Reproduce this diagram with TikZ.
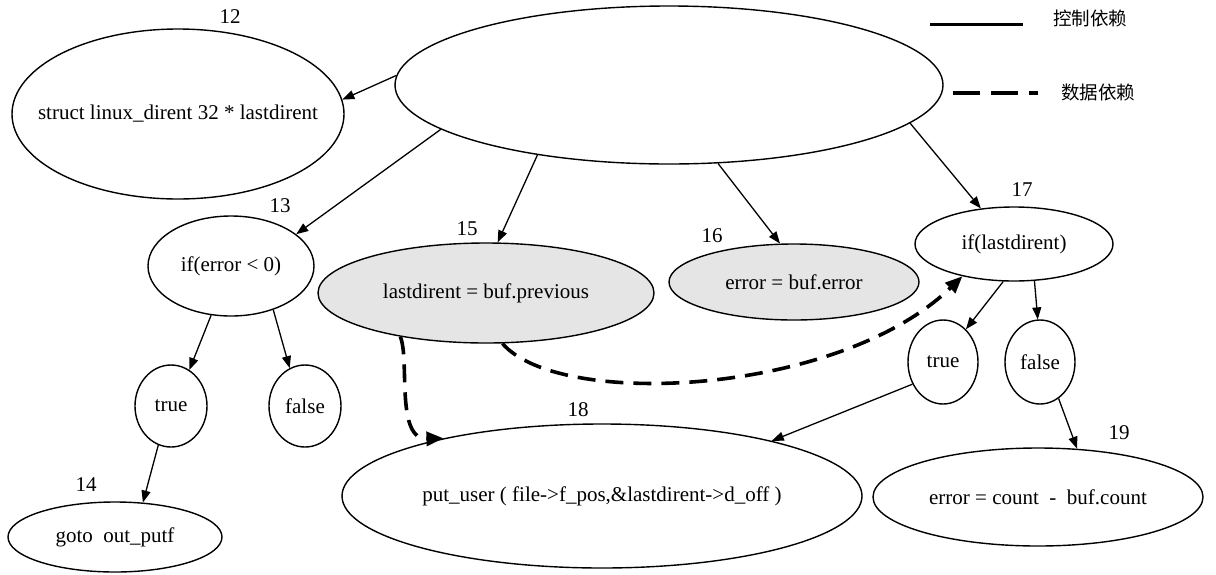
\documentclass[tikz,border=0pt]{standalone}
\usepackage{fontspec}
\setmainfont{Liberation Serif}
\newfontfamily\cjk{Noto Sans CJK SC}
\usetikzlibrary{shapes.geometric,arrows.meta}
\begin{document}
\begin{tikzpicture}[x=1pt,y=-1pt,
  every node/.style={font=\fontsize{21}{25}\selectfont, inner sep=0pt},
  ell/.style={ellipse, draw, line width=1.4pt, inner sep=0pt},
  grayell/.style={ell, fill=gray!20},
  cjklabel/.style={font={\cjk\fontsize{18.5}{22}\selectfont}},
  ctrl/.style={line width=1.3pt, -{Triangle[length=12pt,width=9pt]}},
  dep/.style={line width=3.6pt, dash pattern=on 18pt off 10pt, -{Triangle[length=17pt,width=14pt]}},
]
\useasboundingbox (0,0) rectangle (1216,574);

% ellipses
\node[ell, minimum width=548pt, minimum height=158pt] (root) at (669,85) {};
\node[ell, minimum width=332pt, minimum height=170pt] (n12) at (178,114) {\makebox[0pt]{struct linux\_dirent 32 * lastdirent}};
\node[ell, minimum width=166pt, minimum height=100pt] (n13) at (231,266) {\makebox[0pt]{if(error < 0)}};
\node[ell, minimum width=72pt, minimum height=82pt] (tl) at (171,406) {\makebox[0pt]{true}};
\node[ell, minimum width=72pt, minimum height=82pt] (fl) at (305,406) {\makebox[0pt]{false}};
\node[ell, minimum width=214pt, minimum height=70pt] (n14) at (115,537) {\makebox[0pt]{goto\ \ out\_putf}};
\node[grayell, minimum width=336pt, minimum height=100pt] (n15) at (486,293) {\makebox[0pt]{lastdirent = buf.previous}};
\node[grayell, minimum width=250pt, minimum height=76pt] (n16) at (794,282) {\makebox[0pt]{error = buf.error}};
\node[ell, minimum width=198pt, minimum height=74pt] (n17) at (1014,244) {\makebox[0pt]{if(lastdirent)}};
\node[ell, minimum width=70pt, minimum height=84pt] (tr) at (943,362) {\makebox[0pt]{true}};
\node[ell, minimum width=70pt, minimum height=84pt] (fr) at (1040,362) {\makebox[0pt]{false}};
\node[ell, minimum width=520pt, minimum height=144pt] (n18) at (602,496) {\makebox[0pt]{put\_user ( file->f\_pos,\&lastdirent->d\_off )}};
\node[ell, minimum width=330pt, minimum height=98pt] (n19) at (1038,497) {\makebox[0pt]{error = count\ \ -\ \ buf.count}};

% number labels
\node (l12) at (230,17) {12};
\node (l13) at (280,206) {13};
\node (l14) at (86,485) {14};
\node (l15) at (467,229) {15};
\node (l16) at (712,236) {16};
\node (l17) at (1022,190) {17};
\node (l18) at (578,410) {18};
\node (l19) at (1119,433) {19};

% control dependences
\draw[ctrl] (root.178) -- (n12.5);
\draw[ctrl] (root.191) -- (n13.26);
\draw[ctrl] (root.208) -- (n15.77);
\draw[ctrl] (root.302) -- (n16.110);
\draw[ctrl] (root.351) -- (n17.133);
\draw[ctrl] (n13.248) -- (tl.63);
\draw[ctrl] (n13.314) -- (fl.112);
\draw[ctrl] (tl.252) -- (n14.51);
\draw[ctrl] (n17.254) -- (tr.55);
\draw[ctrl] (n17.299) -- (fr.93);
\draw[ctrl] (tr.216) -- (n18.18);
\draw[ctrl] (fr.297) -- (n19.51);

% data dependences
\draw[dep] (n15.207) .. controls (410,360) and (395,440) .. (n18.160);
\draw[dep] (n15.288) .. controls (560,410) and (840,395) .. (n17.212);

% legend
\coordinate (ls1) at (930,24);
\coordinate (ls2) at (1023,24);
\draw[line width=3pt] (ls1) -- (ls2);
\node[cjklabel] (lt1) at (1090,18) {控制依赖};
\coordinate (ld1) at (953,93);
\coordinate (ld2) at (1038,93);
\draw[line width=4pt, dash pattern=on 27pt off 11pt] (ld1) -- (ld2);
\node[cjklabel] (lt2) at (1098,92) {数据依赖};
\end{tikzpicture}
\end{document}
